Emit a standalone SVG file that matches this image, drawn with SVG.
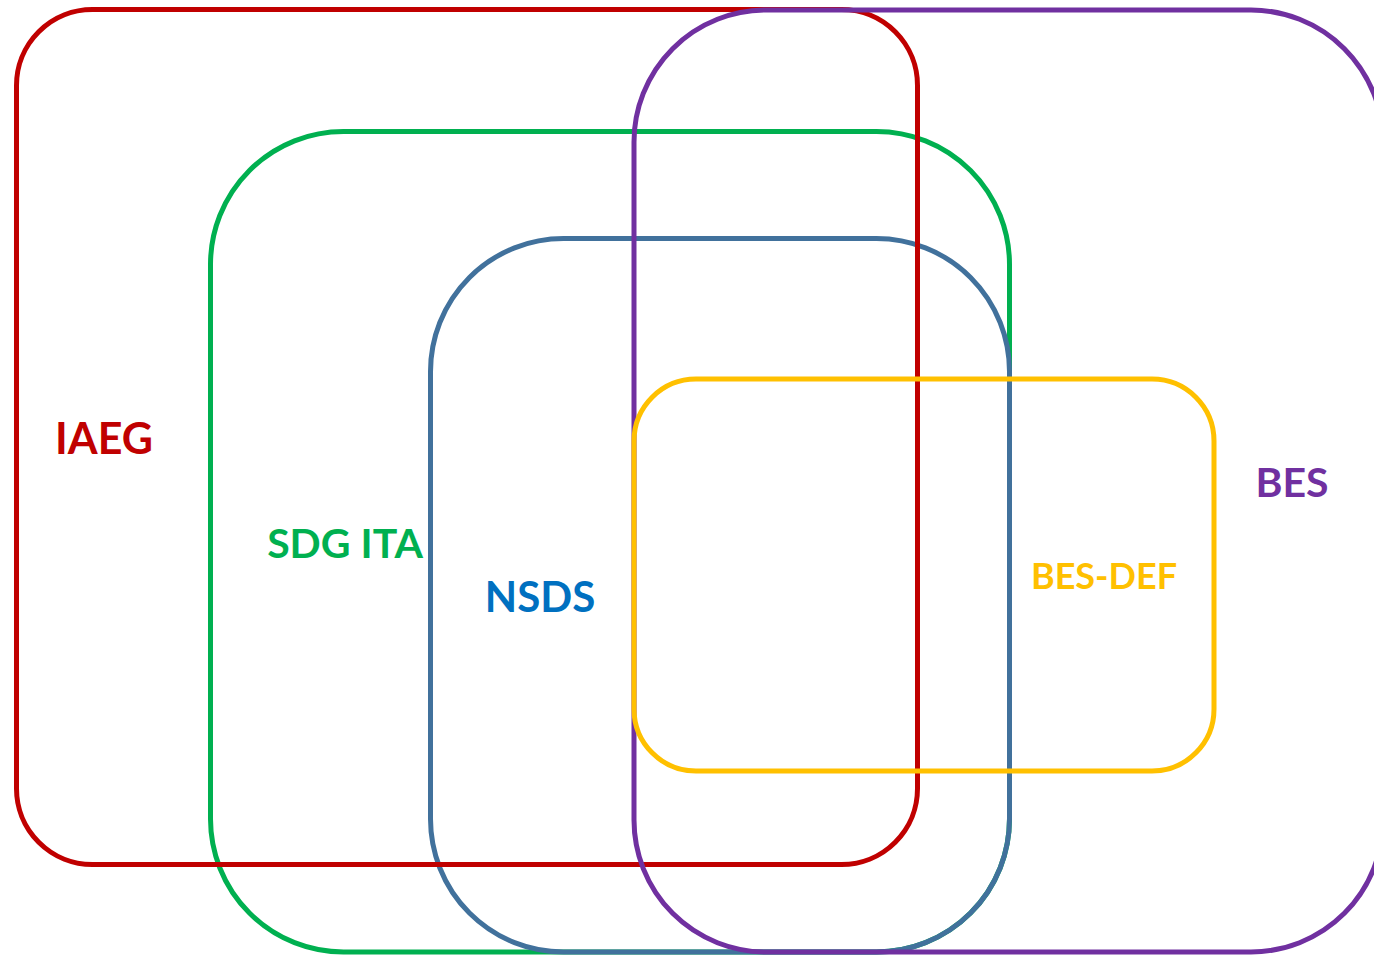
<svg xmlns="http://www.w3.org/2000/svg" width="1374" height="956" viewBox="0 0 1374 956">
<style>
.box{fill:none;stroke-width:5}
.lbl{font-family:Lato,"Liberation Sans",sans-serif;font-weight:bold;text-anchor:middle}
</style>
<rect width="1374" height="956" fill="#ffffff"/>
<g id="sdg-ita"><rect class="box" x="210.5" y="131.5" width="799" height="820.5" rx="133" ry="133" stroke="#00B050"/></g>
<g id="nsds"><rect class="box" x="430.5" y="238.5" width="579" height="713.5" rx="133" ry="133" stroke="#41719C"/></g>
<g id="iaeg"><rect class="box" x="16.5" y="9.5" width="901" height="855" rx="76" ry="76" stroke="#C00000"/></g>
<g id="bes"><rect class="box" x="634" y="10" width="749" height="942" rx="132" ry="132" stroke="#7030A0"/></g>
<g id="bes-def"><rect class="box" x="634" y="379" width="580" height="392" rx="62" ry="62" stroke="#FFC000"/></g>
<g id="labels">
<text class="lbl" x="104" y="454" font-size="43" fill="#C00000">IAEG</text>
<text class="lbl" x="345" y="558" font-size="41" fill="#00B050">SDG ITA</text>
<text class="lbl" x="540" y="612" font-size="42" fill="#0070C0">NSDS</text>
<text class="lbl" x="1104" y="589" font-size="36" fill="#FFC000">BES-DEF</text>
<text class="lbl" x="1292" y="497" font-size="41" fill="#7030A0">BES</text>
</g>
<g id="connectors"/>
</svg>
